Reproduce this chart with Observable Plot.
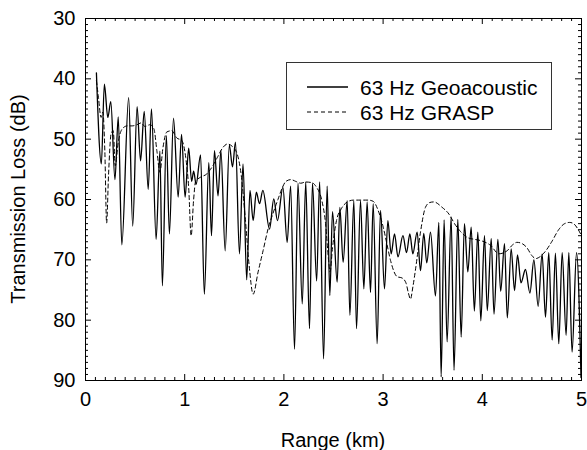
<!DOCTYPE html>
<html><head><meta charset="utf-8">
<script src="https://cdn.jsdelivr.net/npm/d3@7"></script>
<script src="https://cdn.jsdelivr.net/npm/@observablehq/plot@0.6"></script>
<style>
html,body{margin:0;padding:0;background:#fff;}
#chart{width:587px;height:450px;}
</style></head><body><div id="chart"></div>
<script>
// ---- data (range km, transmission loss dB) ----
const geoacoustic = [
[0.11,39.0],[0.16,54.1],[0.19,40.9],[0.225,46.4],[0.255,43.8],[0.297,56.7],[0.33,46.3],[0.366,67.5],
[0.435,43.1],[0.476,64.4],[0.52,44.6],[0.555,53.6],[0.592,45.4],[0.632,58.3],[0.665,45.0],[0.712,66.6],
[0.75,52.0],[0.775,74.3],[0.815,49.4],[0.846,65.7],[0.887,46.5],[0.934,59.6],[0.968,49.2],[1.004,59.6],
[1.04,51.5],[1.07,57.0],[1.09,55.3],[1.115,57.5],[1.16,52.6],[1.198,75.7],[1.243,53.9],[1.27,66.0],
[1.30,51.9],[1.336,59.4],[1.365,51.9],[1.408,68.5],[1.45,51.0],[1.482,54.6],[1.512,50.5],[1.552,69.0],
[1.588,54.1],[1.625,73.3],[1.658,58.5],[1.69,63.5],[1.722,58.8],[1.754,60.7],[1.788,58.5],[1.855,64.9],
[1.898,59.9],[1.935,63.5],[1.99,58.0],[2.033,67.1],[2.068,57.8],[2.107,84.8],[2.142,57.3],[2.185,77.3],
[2.22,57.1],[2.258,81.4],[2.288,57.3],[2.33,73.5],[2.36,57.1],[2.40,86.4],[2.436,57.8],[2.463,75.9],
[2.49,62.0],[2.537,73.7],[2.564,61.3],[2.597,70.4],[2.638,60.2],[2.665,79.2],[2.705,60.2],[2.732,81.4],
[2.772,60.2],[2.806,74.8],[2.839,60.4],[2.873,75.4],[2.90,60.7],[2.94,83.9],[2.974,61.8],[3.014,74.8],
[3.048,63.5],[3.081,69.0],[3.115,65.7],[3.15,69.5],[3.20,66.0],[3.236,68.8],[3.27,65.7],[3.30,69.0],
[3.343,65.4],[3.377,71.8],[3.41,65.6],[3.44,70.5],[3.478,65.4],[3.528,76.0],[3.562,63.8],[3.585,89.4],
[3.615,63.4],[3.645,83.6],[3.686,62.9],[3.715,88.3],[3.753,63.3],[3.787,82.8],[3.82,64.0],[3.854,72.0],
[3.888,64.6],[3.92,78.5],[3.955,65.4],[3.985,80.1],[4.022,66.0],[4.05,78.4],[4.09,66.5],[4.118,79.0],
[4.157,66.6],[4.185,75.2],[4.224,67.3],[4.252,79.6],[4.291,68.2],[4.325,75.1],[4.355,69.2],[4.39,73.8],
[4.435,71.6],[4.48,75.5],[4.52,70.0],[4.563,77.7],[4.603,69.0],[4.637,79.5],[4.67,68.8],[4.704,83.3],
[4.737,68.9],[4.771,83.9],[4.805,68.8],[4.845,82.5],[4.872,68.8],[4.905,85.3],[4.95,68.8],[4.995,89.5]
];
const grasp = [
[0.11,40.3],[0.13,43.0],[0.157,46.4],[0.175,45.5],[0.195,52.0],[0.213,63.9],[0.232,56.0],[0.259,49.0],
[0.28,48.6],[0.30,54.4],[0.33,50.5],[0.37,48.3],[0.42,47.8],[0.47,47.8],[0.52,47.6],[0.56,47.3],
[0.60,47.9],[0.65,47.6],[0.69,48.3],[0.72,52.0],[0.75,55.5],[0.78,51.5],[0.82,48.8],[0.87,48.6],
[0.92,49.8],[0.97,50.2],[1.01,53.0],[1.04,58.0],[1.065,66.0],[1.09,60.0],[1.11,57.0],[1.16,56.3],
[1.22,55.8],[1.28,54.5],[1.33,53.0],[1.38,51.5],[1.43,50.8],[1.48,51.2],[1.53,52.5],[1.57,56.0],
[1.61,63.0],[1.65,71.0],[1.69,75.7],[1.74,72.0],[1.79,68.5],[1.84,64.9],[1.89,62.3],[1.94,60.0],
[1.98,58.2],[2.02,57.0],[2.07,56.7],[2.12,57.0],[2.17,57.3],[2.22,57.1],[2.28,57.2],[2.33,58.0],
[2.38,60.0],[2.42,64.0],[2.45,70.0],[2.465,72.0],[2.49,68.0],[2.53,63.5],[2.58,61.5],[2.64,60.4],
[2.70,60.1],[2.78,60.1],[2.85,60.1],[2.90,60.3],[2.95,61.8],[3.0,64.5],[3.04,67.5],[3.075,70.1],
[3.142,72.8],[3.19,73.0],[3.23,73.8],[3.255,75.5],[3.276,76.5],[3.30,74.5],[3.33,71.2],[3.377,65.4],
[3.427,61.3],[3.47,60.5],[3.511,60.4],[3.595,61.3],[3.663,62.4],[3.72,64.0],[3.78,65.3],[3.85,66.3],
[3.92,66.6],[3.982,66.8],[4.083,67.6],[4.167,69.0],[4.25,68.5],[4.30,67.6],[4.35,67.1],[4.40,67.3],
[4.45,68.0],[4.50,69.3],[4.54,69.8],[4.58,69.5],[4.64,68.5],[4.70,67.0],[4.77,65.0],[4.83,64.0],
[4.88,63.8],[4.92,64.0],[4.96,64.8],[5.0,66.0]
];
const xTicks = [0, 1, 2, 3, 4, 5];
const yTicks = [30, 40, 50, 60, 70, 80, 90];
const seriesNames = ["63 Hz Geoacoustic", "63 Hz GRASP"];
const xTitle = "Range (km)";
const yTitle = "Transmission Loss (dB)";

// ---- layout ----
const W = 587, H = 450, mL = 85, mR = 6, mT = 18, mB = 70;
const iw = W - mL - mR, ih = H - mT - mB;
const FONT = "'Liberation Sans', Arial, Helvetica, sans-serif";
const xMinor = d3.range(0, 51).map(i => i / 10).filter(v => !xTicks.includes(v));
const yMinor = d3.range(30, 91).filter(v => !yTicks.includes(v));
const geoRows = geoacoustic.map(([km, tl]) => ({km, tl}));
const graspRows = grasp.map(([km, tl]) => ({km, tl}));

const chart = Plot.plot({
  width: W, height: H,
  marginLeft: mL, marginRight: mR, marginTop: mT, marginBottom: mB,
  style: {fontFamily: FONT, fontSize: "20px", background: "white", color: "black"},
  x: {domain: [0, 5]},
  y: {domain: [30, 90], reverse: true},
  marks: [
    Plot.line(graspRows, {x: "km", y: "tl", stroke: "black", strokeWidth: 1, strokeDasharray: "4,3", curve: "monotone-x"}),
    Plot.line(geoRows, {x: "km", y: "tl", stroke: "black", strokeWidth: 1.3, curve: "monotone-x"}),
    Plot.tickX(xMinor, {x: d => d, insetTop: ih - 3, stroke: "black"}),
    Plot.tickX(xMinor, {x: d => d, insetBottom: ih - 3, stroke: "black"}),
    Plot.tickX(xTicks, {x: d => d, insetTop: ih - 6, stroke: "black"}),
    Plot.tickX(xTicks, {x: d => d, insetBottom: ih - 6, stroke: "black"}),
    Plot.tickY(yMinor, {y: d => d, insetRight: iw - 3, stroke: "black"}),
    Plot.tickY(yMinor, {y: d => d, insetLeft: iw - 3, stroke: "black"}),
    Plot.tickY(yTicks, {y: d => d, insetRight: iw - 6, stroke: "black"}),
    Plot.tickY(yTicks, {y: d => d, insetLeft: iw - 6, stroke: "black"}),
    Plot.axisX(xTicks, {tickSize: 0, tickPadding: 11, label: null, fontSize: 20}),
    Plot.axisY(yTicks, {tickSize: 0, tickPadding: 10, label: null, fontSize: 20}),
    Plot.frame({stroke: "black"})
  ]
});
document.getElementById("chart").appendChild(chart);

// ---- axis titles and legend (text, not data marks) ----
const svg = d3.select(chart);
svg.append("text").attr("x", mL + iw / 2).attr("y", 447).attr("text-anchor", "middle")
  .style("font-family", FONT).style("font-size", "20px").attr("fill", "black").text(xTitle);
svg.append("text").attr("transform", `translate(25,${mT + ih / 2}) rotate(-90)`).attr("text-anchor", "middle")
  .style("font-family", FONT).style("font-size", "20px").attr("fill", "black").text(yTitle);

const lg = svg.append("g");
lg.append("rect").attr("x", 286.5).attr("y", 62.5).attr("width", 265).attr("height", 67)
  .attr("fill", "white").attr("stroke", "#333").attr("stroke-width", 1);
const dashes = [null, "4,3"];
seriesNames.forEach((name, i) => {
  const yy = 87 + i * 25;
  lg.append("line").attr("x1", 307).attr("x2", 348).attr("y1", yy).attr("y2", yy)
    .attr("stroke", "black").attr("stroke-width", i ? 1 : 1.3).attr("stroke-dasharray", dashes[i]);
  lg.append("text").attr("x", 360).attr("y", yy + 7.5).attr("text-anchor", "start")
    .style("font-family", FONT).style("font-size", "21px").attr("fill", "black").text(name);
});
</script>
</body></html>
